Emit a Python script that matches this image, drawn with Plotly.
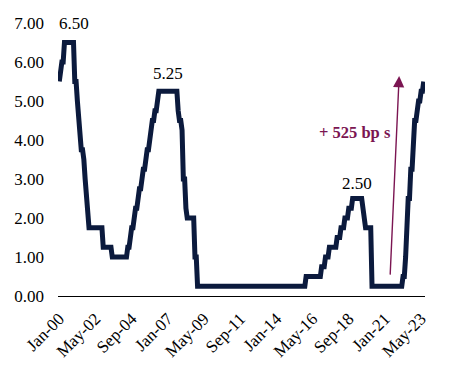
import pandas as pd
import plotly.graph_objects as go

# Monthly policy rate (upper bound, %), Jan 2000 - Jul 2023
months = pd.date_range("2000-01-01", "2023-07-01", freq="MS").strftime("%b-%y").tolist()

rate = (
    [5.50, 5.75, 6.00, 6.00, 6.50, 6.50, 6.50, 6.50, 6.50, 6.50, 6.50, 6.50]      # 2000
    + [5.50, 5.50, 5.00, 4.50, 4.00, 3.75, 3.75, 3.50, 3.00, 2.50, 2.00, 1.75]  # 2001
    + [1.75] * 10 + [1.25, 1.25]                                                 # 2002
    + [1.25] * 5 + [1.00] * 7                                                    # 2003
    + [1.00] * 5 + [1.25, 1.25, 1.50, 1.75, 1.75, 2.00, 2.25]                    # 2004
    + [2.25, 2.50, 2.75, 2.75, 3.00, 3.25, 3.25, 3.50, 3.75, 3.75, 4.00, 4.25]  # 2005
    + [4.50, 4.50, 4.75, 4.75, 5.00, 5.25] + [5.25] * 6                          # 2006
    + [5.25] * 8 + [4.75, 4.50, 4.50, 4.25]                                      # 2007
    + [3.00, 3.00, 2.25, 2.00, 2.00, 2.00, 2.00, 2.00, 2.00, 1.00, 1.00, 0.25]  # 2008
    + [0.25] * 72                                                                # 2009-2014
    + [0.25] * 11 + [0.50]                                                       # 2015
    + [0.50] * 11 + [0.75]                                                       # 2016
    + [0.75, 0.75, 1.00, 1.00, 1.00, 1.25, 1.25, 1.25, 1.25, 1.25, 1.25, 1.50]  # 2017
    + [1.50, 1.50, 1.75, 1.75, 1.75, 2.00, 2.00, 2.00, 2.25, 2.25, 2.25, 2.50]  # 2018
    + [2.50] * 7 + [2.25, 2.00, 1.75, 1.75, 1.75]                                # 2019
    + [1.75, 1.75] + [0.25] * 10                                                 # 2020
    + [0.25] * 12                                                                # 2021
    + [0.25, 0.25, 0.50, 0.50, 1.00, 1.75, 2.50, 2.50, 3.25, 3.25, 4.00, 4.50]  # 2022
    + [4.50, 4.75, 5.00, 5.00, 5.25, 5.25, 5.50]                                 # 2023
)

tick_labels = ["Jan-00", "May-02", "Sep-04", "Jan-07", "May-09", "Sep-11",
               "Jan-14", "May-16", "Sep-18", "Jan-21", "May-23"]
y_ticks = [0, 1, 2, 3, 4, 5, 6, 7]

idx = list(range(len(rate)))
tick_pos = [months.index(t) for t in tick_labels]

NAVY = "#0b1a3d"
MAROON = "#7b1552"
FONT = "Liberation Serif"

fig = go.Figure()
fig.add_trace(go.Scatter(
    x=idx, y=rate, mode="lines",
    line=dict(color=NAVY, width=5, shape="linear"),
    hoverinfo="skip", showlegend=False,
))

peaks = [(11, "6.50", 7.0), (84, "5.25", 5.71),
         (230, "2.50", 2.88), (287, "5.50", 5.97)]
for xi, txt, ypos in peaks:
    fig.add_annotation(x=xi, y=ypos, text=txt, showarrow=False,
                       font=dict(family=FONT, size=17, color="#000000"),
                       xanchor="center", yanchor="middle")

fig.add_annotation(x=263, y=5.64, ax=256, ay=0.51, xref="x", yref="y",
                   axref="x", ayref="y", text="", showarrow=True,
                   arrowhead=2, arrowsize=1.6, arrowwidth=1.4,
                   arrowcolor=MAROON)
fig.add_annotation(x=228.5, y=4.19, text="<b>+ 525 bp s</b>", showarrow=False,
                   font=dict(family=FONT, size=16.5, color=MAROON),
                   xanchor="center", yanchor="middle")

fig.update_layout(
    width=461, height=375,
    margin=dict(l=58, r=36, t=23, b=79),
    paper_bgcolor="white", plot_bgcolor="white",
    font=dict(family=FONT, size=17, color="#000000"),
    xaxis=dict(range=[-1, 283], tickmode="array", tickvals=tick_pos,
               ticktext=tick_labels, tickangle=-45, showgrid=False,
               zeroline=False, showline=True, linecolor="#000000",
               linewidth=1.3, ticks="", ticklabelstandoff=5,
               tickfont=dict(family=FONT, size=17)),
    yaxis=dict(range=[0, 7], tickmode="array", tickvals=y_ticks,
               ticktext=[f"{v:.2f}" for v in y_ticks], showgrid=False,
               zeroline=False, showline=False, ticks="",
               ticklabelstandoff=13, tickfont=dict(family=FONT, size=17)),
)

fig.write_html("out.html", config={"displayModeBar": False},
               post_script="document.body.style.margin='0';")
